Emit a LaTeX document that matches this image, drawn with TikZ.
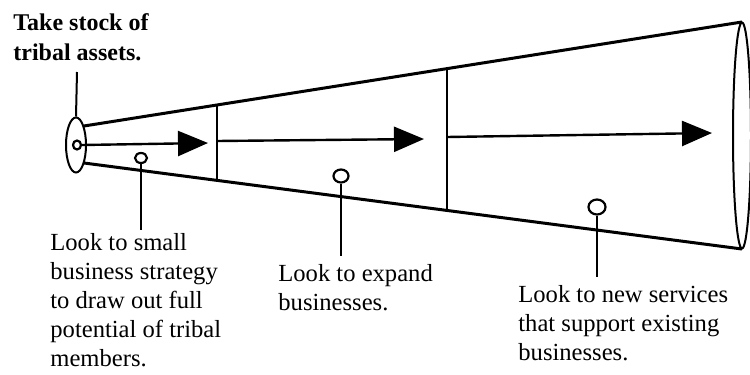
\documentclass[tikz,border=0pt]{standalone}
\usepackage{fontspec}
\setmainfont{Liberation Serif}
\usetikzlibrary{arrows.meta,shapes.geometric}
\begin{document}
\begin{tikzpicture}[x=0.5pt,y=-0.5pt,
  cone/.style={line width=1.5pt},
  divider/.style={line width=1pt},
  flow/.style={line width=1.2pt,-{Triangle[length=15pt,width=12.5pt]}},
  pin/.style={draw,ellipse,line width=1.1pt,inner sep=0pt,fill=white},
  stem/.style={line width=1pt},
  label/.style={align=left,inner sep=0pt,anchor=base west,
    font=\fontsize{12.3}{14.5}\selectfont}]
\useasboundingbox (0,0) rectangle (750,375);
% cone ends
\node[draw,ellipse,line width=1pt,minimum width=10pt,minimum height=27.5pt,inner sep=0pt] (mouth) at (76,145) {};
\node[draw,ellipse,line width=1pt,minimum width=9pt,minimum height=113pt,inner sep=0pt] (rim) at (742,135.5) {};
% cone sides
\coordinate (tl) at (84,126);
\coordinate (tr) at (742,22);
\coordinate (bl) at (84,163);
\coordinate (br) at (742,249);
\draw[cone] (tl) -- (tr);
\draw[cone] (bl) -- (br);
% dividers
\coordinate (d1t) at (217,105.5);
\coordinate (d1b) at (217,180);
\coordinate (d2t) at (447,69.6);
\coordinate (d2b) at (447,210);
\draw[divider] (d1t) -- (d1b);
\draw[divider] (d2t) -- (d2b);
% start circle
\node[pin,minimum width=4pt,minimum height=4.5pt] (start) at (77,145) {};
% arrows
\coordinate (a1e) at (208,143);
\coordinate (a2s) at (217,141);
\coordinate (a2e) at (424,139);
\coordinate (a3s) at (447,137);
\coordinate (a3e) at (712,133);
\draw[flow] (start.east) -- (a1e);
\draw[flow] (a2s) -- (a2e);
\draw[flow] (a3s) -- (a3e);
% top label (anchored at the baseline of its last line)
\node[label,font=\fontsize{12}{15}\selectfont\bfseries] (t0) at (13,61) {Take stock of\\tribal assets.};
\coordinate (s0a) at (77,72);
\draw[stem] (s0a) -- (mouth.north);
% pins
\node[pin,minimum width=6pt,minimum height=5pt] (p1) at (141,158) {};
\node[pin,minimum width=7.5pt,minimum height=6.5pt] (p2) at (341,176) {};
\node[pin,minimum width=8.5pt,minimum height=7.5pt] (p3) at (597,207) {};
\coordinate (s1) at (141,230);
\coordinate (s2) at (341,256);
\coordinate (s3) at (597,277);
\draw[stem] (p1.south) -- (s1);
\draw[stem] (p2.south) -- (s2);
\draw[stem] (p3.south) -- (s3);
% labels (anchored at the baseline of their last line)
\node[label] (t1) at (50,366) {Look to small\\business strategy\\to draw out full\\potential of tribal\\members.};
\node[label] (t2) at (278,310) {Look to expand\\businesses.};
\node[label] (t3) at (518,360) {Look to new services\\that support existing\\businesses.};
\end{tikzpicture}
\end{document}
